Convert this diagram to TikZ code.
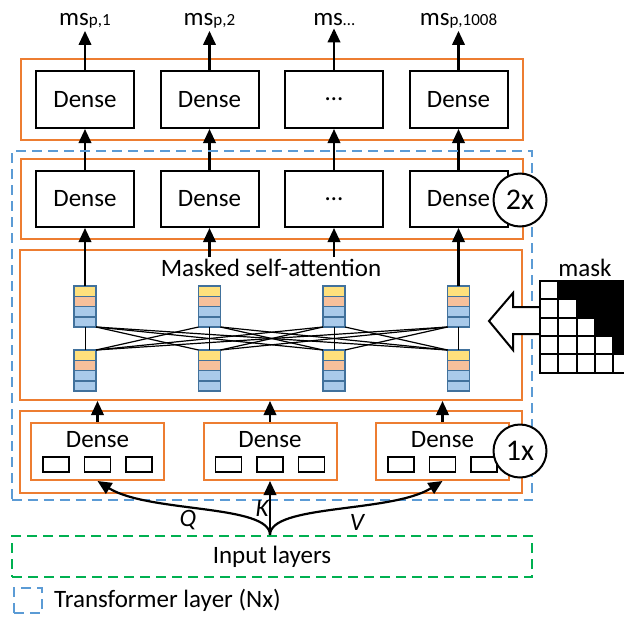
\documentclass[tikz,border=0pt]{standalone}
\usepackage{fontspec}
\setmainfont{Carlito}
\usetikzlibrary{arrows.meta,fit,positioning}
\definecolor{boxorange}{HTML}{ED7D31}
\definecolor{tfblue}{HTML}{5B9BD5}
\definecolor{ingreen}{HTML}{00B050}
\definecolor{vecyellow}{HTML}{FFE07C}
\definecolor{vecsalmon}{HTML}{F7C09B}
\definecolor{veclblue}{HTML}{A9CAEA}
\definecolor{vecborder}{HTML}{41719C}
\newcommand{\mssub}[1]{ms{\fontsize{17}{20}\selectfont #1}}

\begin{document}
\begin{tikzpicture}[x=1pt,y=-1pt]
      \tikzstyle{txt}=[font=\fontsize{25}{30}\selectfont, inner sep=1pt]
      \tikzstyle{densebox}=[rectangle, draw=black, line width=2pt, minimum width=98pt, minimum height=57pt, font=\fontsize{25}{30}\selectfont]
      \tikzstyle{orangebox}=[rectangle, draw=boxorange, line width=2pt, inner sep=0pt]
      \tikzstyle{subbox}=[rectangle, draw=boxorange, line width=2pt, minimum width=133pt, minimum height=57pt]
      \tikzstyle{unit}=[rectangle, draw=black, line width=1.6pt, minimum width=26pt, minimum height=15pt, inner sep=0pt]
      \tikzstyle{vecbox}=[rectangle, draw=vecborder, line width=1.5pt, minimum width=22pt, minimum height=10.25pt, inner sep=0pt]
      \tikzstyle{stack}=[rectangle, minimum width=22pt, minimum height=41pt, inner sep=0pt, outer sep=0pt]
      \tikzstyle{times}=[circle, draw=black, line width=2pt, fill=white, minimum size=53pt, inner sep=0pt, font=\fontsize{30}{36}\selectfont]
      \tikzstyle{dashframe}=[rectangle, line width=2pt, dash pattern=on 10pt off 6pt, inner sep=0pt]
      \tikzstyle{maskcell}=[draw=black, line width=2pt]
      \tikzstyle{connect}=[-{Triangle[length=14pt,width=12.5pt]}, line width=2.2pt]
      \tikzstyle{mesh}=[line width=1.2pt]

      \useasboundingbox (0,0) rectangle (624,619);

      % output and hidden dense rows
      \node[densebox] (out1) at (85,99.5) {Dense};
      \node[densebox] (out2) [right=24.5pt of out1] {Dense};
      \node[densebox] (out3) [right=24.5pt of out2] {…};
      \node[densebox] (out4) [right=24.5pt of out3] {Dense};
      \node[densebox, minimum height=56pt] (hid1) at (85,199) {Dense};
      \node[densebox, minimum height=56pt] (hid2) [right=24.5pt of hid1] {Dense};
      \node[densebox, minimum height=56pt] (hid3) [right=24.5pt of hid2] {…};
      \node[densebox, minimum height=56pt] (hid4) [right=24.5pt of hid3] {Dense};

      \node[txt, anchor=base, inner sep=3pt] (ms1) at (85,25) {\mssub{p,1}};
      \node[txt, anchor=base, inner sep=3pt] (ms2) at (209.5,25) {\mssub{p,2}};
      \node[txt, anchor=base, inner sep=3pt] (ms3) at (334,25) {\mssub{…}};
      \node[txt, anchor=base, inner sep=3pt] (ms4) at (458.5,25) {\mssub{p,1008}};

      \node[orangebox, fit=(out1) (out4), inner xsep=14pt, inner ysep=11pt] (outL) {};
      \node[orangebox, fit=(hid1) (hid4), inner xsep=14pt, inner ysep=11pt] (hidL) {};
      \node[orangebox, fit={(20,250) (522,400)}] (attL) {};
      \node[orangebox, fit={(20,411) (522,493)}] (qkvL) {};

      % attention vectors
      \foreach \x [count=\i] in {85,209.5,334,458.5}{
        \foreach \c [count=\j] in {vecyellow,vecsalmon,veclblue,veclblue}{
          \node[vecbox, fill=\c] (u\i-\j) at (\x, 280.875+10.25*\j) {};
          \node[vecbox, fill=\c] (l\i-\j) at (\x, 344.875+10.25*\j) {};
        }
        \node[stack] (u\i) at (\x,306.5) {};
        \node[stack] (l\i) at (\x,370.5) {};
      }
      \foreach \i in {1,...,4}{
        \foreach \j in {1,...,4}{
          \ifnum\j>\i \draw[mesh] (u\i.south east) -- (l\j.north west);\fi
          \ifnum\j<\i \draw[mesh] (u\i.south west) -- (l\j.north east);\fi
        }
        \draw[line width=0.9pt] (u\i) -- (l\i);
        \path (hid\i) edge [connect] (out\i);
        \draw[connect] (out\i) -- (out\i |- ms\i.south);
      }
      \node[txt, fill=white, inner sep=2pt] (attn) at (271,268) {Masked self-attention};
      \path (u1) edge [connect] (hid1)
            (u4) edge [connect] (hid4);
      \draw[connect] (attn.north -| hid2) -- (hid2);
      \draw[connect] (attn.north -| hid3) -- (hid3);

      % Q, K, V dense layers
      \node[subbox] (q1) at (97.5,451.5) {};
      \node[subbox] (q2) [right=37.5pt of q1] {};
      \node[subbox] (q3) [right=37.5pt of q2] {};
      \foreach \q in {q1,q2,q3}{
        \node[txt] (\q-t) at ([yshift=11.5pt]\q.center) {Dense};
        \foreach \dx [count=\k] in {-41.5,0,41.5}
          \node[unit] (\q-u\k) at ([xshift=\dx pt, yshift=-13pt]\q.center) {};
        \draw[connect] (\q) -- (\q |- attL.south);
      }

      \node[dashframe, draw=tfblue, fit={(11.5,151) (532,500)}] (tf) {};
      \node[dashframe, draw=ingreen, fit={(12,536) (532,577)}] (inp) {};
      \node[txt] (inptxt) at (inp.center) {Input layers};

      \coordinate (split) at (q2.south |- inp.north);
      \draw[connect] (split) .. controls +(0,-31) and +(51,32) .. (q1.south);
      \draw[connect] (split) -- (q2.south);
      \draw[connect] (split) .. controls +(0,-31) and +(-51,32) .. (q3.south);
      \node[txt, font=\fontsize{25}{30}\selectfont\itshape] (qlab) at (188,520) {Q};
      \node[txt, font=\fontsize{25}{30}\selectfont\itshape] (klab) at (262,508) {K};
      \node[txt, font=\fontsize{25}{30}\selectfont\itshape] (vlab) at (357,522) {V};

      \node[times] (rep2) at (520,200) {2x};
      \node[times] (rep1) at (520,451) {1x};

      % mask
      \draw[line width=2pt, fill=white, line join=miter] (540,307) -- (513,307) -- (513,293) -- (489,321) -- (513,350) -- (513,334) -- (540,334);
      \foreach \r in {0,...,4}{
        \foreach \c in {0,...,4}{
          \ifnum\c>\r \def\cellfill{black}\else\def\cellfill{white}\fi
          \draw[maskcell, fill=\cellfill] (540+18.3*\c, 281+18.3*\r) rectangle +(18.3,18.3);
        }
      }
      \node[txt] (masklab) at (585,268) {mask};

      % legend
      \node[dashframe, draw=tfblue, minimum width=28pt, minimum height=25pt] (leg) at (28,600.5) {};
      \node[txt] (legtxt) [right=10pt of leg] {Transformer layer (Nx)};
\end{tikzpicture}
\end{document}
